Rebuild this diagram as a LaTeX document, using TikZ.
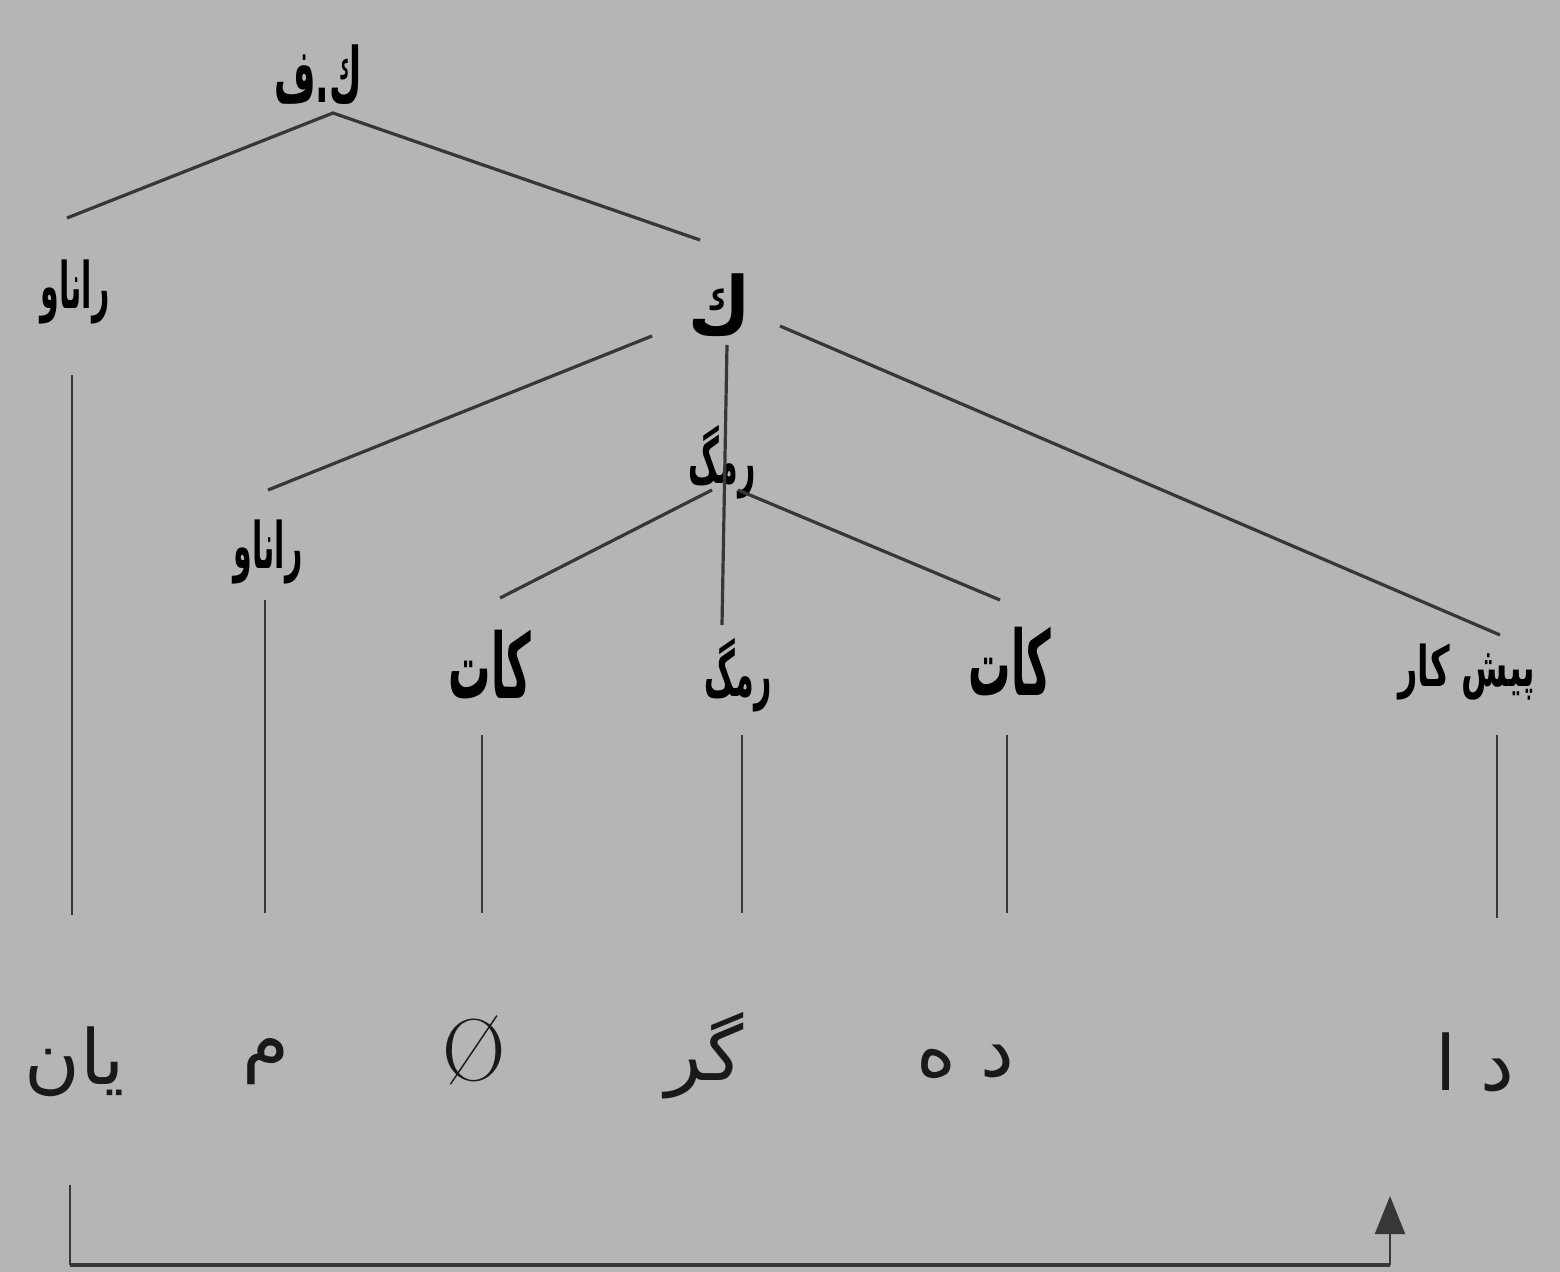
\documentclass[tikz,border=0pt]{standalone}
\usepackage{fontspec}
\usetikzlibrary{arrows.meta}
\TeXXeTstate=1
\newfontfamily\arb[Script=Arabic,FakeStretch=0.47]{DejaVu Sans}
\newfontfamily\arbw[Script=Arabic,FakeStretch=0.6]{DejaVu Sans}
\newfontfamily\arbk[Script=Arabic,FakeStretch=0.85]{DejaVu Sans}
\newfontfamily\arleaf[Script=Arabic]{DejaVu Sans}
\definecolor{bg}{RGB}{181,181,181}
\definecolor{ln}{RGB}{55,55,55}
\begin{document}
\begin{tikzpicture}[x=0.5pt,y=-0.5pt,
  lbl/.style={font=\arb\bfseries\fontsize{32}{36}\selectfont, inner sep=0pt, text=black},
  ttl/.style={font=\arb\bfseries\fontsize{38}{42}\selectfont, inner sep=0pt, text=black},
  big/.style={font=\arb\bfseries\fontsize{45}{50}\selectfont, inner sep=0pt, text=black},
  kk/.style={font=\arbk\bfseries\fontsize{40}{44}\selectfont, inner sep=0pt, text=black},
  pr/.style={font=\arbw\bfseries\fontsize{28}{32}\selectfont, inner sep=0pt, text=black},
  leaf/.style={font=\arleaf\fontsize{38}{42}\selectfont, inner sep=0pt, text=black!90},
  edge/.style={draw=ln, line width=1.6pt},
  thin/.style={draw=ln, line width=1.0pt}]
\fill[bg] (0,0) rectangle (1560,1272);
\useasboundingbox (0,0) rectangle (1560,1272);
% labels
\node[ttl] (root) at (318,75) {\beginR ك.ف\endR};
\node[lbl] (pn1) at (75,292) {\beginR راناو\endR};
\node[kk] (k) at (720,305) {\beginR ك\endR};
\node[lbl] (rg1) at (722,462) {\beginR رمگ\endR};
\node[lbl] (pn2) at (268,552) {\beginR راناو\endR};
\node[big] (kat1) at (490,665) {\beginR كات\endR};
\node[lbl] (rg2) at (738,675) {\beginR رمگ\endR};
\node[big] (kat2) at (1010,662) {\beginR كات\endR};
\node[pr] (pre) at (1467,672) {\beginR پيش كار\endR};
% leaves
\node[leaf] (yan) at (75,1062) {\beginR يان\endR};
\node[leaf] (m) at (266,1062) {\beginR م\endR};
\node[font=\fontsize{44}{48}\selectfont, inner sep=0pt, text=black!90] (nul) at (474,1050) {Ø};
\node[leaf] (gr) at (705,1056) {\beginR گر\endR};
\node[leaf] (de) at (965,1062) {\beginR د ه\endR};
\node[leaf] (da) at (1475,1062) {\beginR د ا\endR};
% coordinates
\coordinate (r0) at (333,113);
\coordinate (r1) at (67,218);
\coordinate (r2) at (700,240);
\coordinate (kl) at (652,336);
\coordinate (kl2) at (268,490);
\coordinate (kr) at (780,326);
\coordinate (kr2) at (1500,635);
\coordinate (kv) at (727,345);
\coordinate (kv2) at (722,625);
\coordinate (ga) at (712,490);
\coordinate (ga2) at (500,598);
\coordinate (gb) at (738,490);
\coordinate (gb2) at (1000,600);
\coordinate (p1a) at (72,375);
\coordinate (p1b) at (72,915);
\coordinate (p2a) at (265,600);
\coordinate (p2b) at (265,913);
\coordinate (k1a) at (482,735);
\coordinate (k1b) at (482,913);
\coordinate (g2a) at (742,735);
\coordinate (g2b) at (742,913);
\coordinate (k2a) at (1007,735);
\coordinate (k2b) at (1007,913);
\coordinate (pra) at (1497,735);
\coordinate (prb) at (1497,918);
\coordinate (ba) at (70,1185);
\coordinate (bb) at (70,1265);
\coordinate (bc) at (1390,1265);
\coordinate (bd) at (1390,1196);
% edges
\draw[edge] (r1) -- (r0) -- (r2);
\draw[edge] (kl) -- (kl2);
\draw[edge] (kr) -- (kr2);
\draw[edge] (kv) -- (kv2);
\draw[edge] (ga) -- (ga2);
\draw[edge] (gb) -- (gb2);
\draw[thin] (p1a) -- (p1b);
\draw[thin] (p2a) -- (p2b);
\draw[thin] (k1a) -- (k1b);
\draw[thin] (g2a) -- (g2b);
\draw[thin] (k2a) -- (k2b);
\draw[thin] (pra) -- (prb);
\draw[thin] (ba) -- (bb);
\draw[edge, line width=2.2pt] (bb) -- (bc);
\draw[thin,-{Triangle[length=19pt,width=15pt]}] (bc) -- (bd);
\end{tikzpicture}
\end{document}
